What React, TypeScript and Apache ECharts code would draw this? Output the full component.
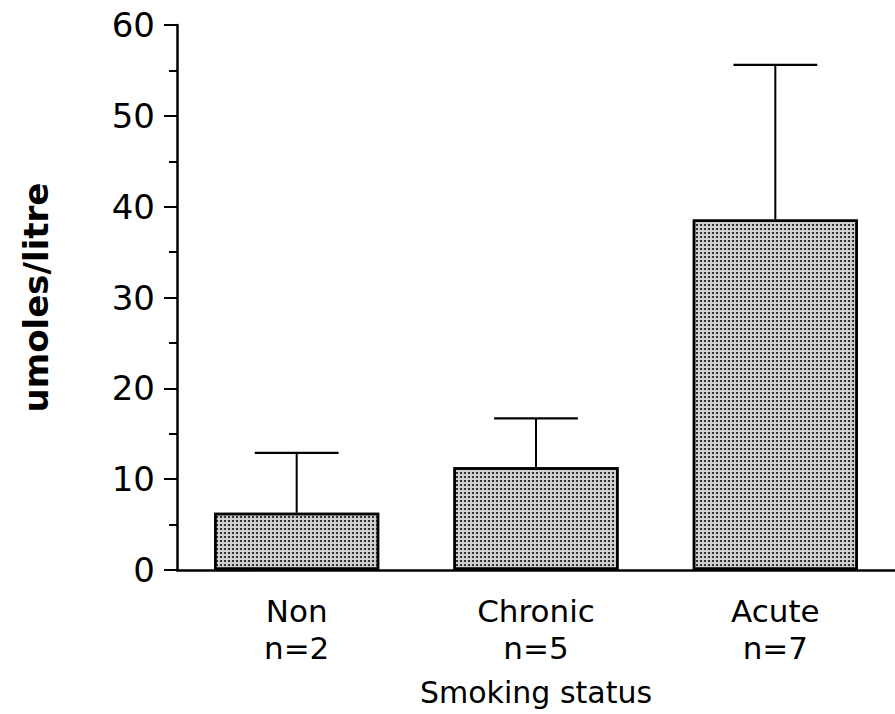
import React, { useEffect, useRef } from "react";
import * as echarts from "echarts";

const categories = ["Non\nn=2", "Chronic\nn=5", "Acute\nn=7"];
const means = [6.3, 11.3, 38.6];
const errors = [6.6, 5.4, 17.0];
const yTicks = [0, 10, 20, 30, 40, 50, 60];

export default function App() {
  const ref = useRef<HTMLDivElement>(null);
  useEffect(() => {
    if (!ref.current) return;
    const chart = echarts.init(ref.current, null, { renderer: "svg" });
    const font = "DejaVu Sans";
    chart.setOption({
      animation: false,
      backgroundColor: "#ffffff",
      grid: { left: 177, right: -4, top: 25, bottom: 144, containLabel: false },
      xAxis: {
        type: "category",
        data: categories,
        name: "Smoking status",
        nameLocation: "middle",
        nameGap: 107,
        nameTextStyle: { fontFamily: font, fontSize: 30, color: "#000" },
        axisLine: { show: true, lineStyle: { color: "#000", width: 2.5 } },
        axisTick: { show: false },
        axisLabel: {
          fontFamily: font,
          fontSize: 31,
          lineHeight: 37,
          color: "#000",
          margin: 22,
        },
      },
      yAxis: {
        type: "value",
        min: yTicks[0],
        max: yTicks[yTicks.length - 1],
        interval: 10,
        name: "umoles/litre",
        nameLocation: "middle",
        nameGap: 124,
        nameTextStyle: { fontFamily: font, fontSize: 34, fontWeight: "bold", color: "#000" },
        axisLine: { show: true, lineStyle: { color: "#000", width: 2.5 } },
        axisTick: { show: true, length: 13, lineStyle: { color: "#000", width: 2 } },
        minorTick: { show: true, splitNumber: 2, length: 8, lineStyle: { color: "#000", width: 2 } },
        splitLine: { show: false },
        axisLabel: { fontFamily: font, fontSize: 34, color: "#000", margin: 22 },
      },
      series: [
        {
          type: "bar",
          data: means,
          barWidth: "69%",
          itemStyle: {
            color: "#d2d2d2",
            borderColor: "#000",
            borderWidth: 2.5,
            decal: {
              symbol: "circle",
              symbolSize: 1,
              dashArrayX: [[1.7, 1.5]],
              dashArrayY: [1.7, 1.5],
              color: "#111111",
              rotation: 0,
            },
          },
          z: 2,
        },
        {
          type: "custom",
          data: means.map((m, i) => [i, m, m + errors[i]]),
          z: 1,
          renderItem: (params: any, api: any) => {
            const i = api.value(0);
            const lo = api.coord([i, api.value(1)]);
            const hi = api.coord([i, api.value(2)]);
            const band = api.size([1, 0])[0];
            const half = band * 0.175;
            return {
              type: "group",
              children: [
                {
                  type: "line",
                  shape: { x1: lo[0], y1: lo[1], x2: hi[0], y2: hi[1] },
                  style: { stroke: "#000", lineWidth: 2 },
                },
                {
                  type: "line",
                  shape: { x1: hi[0] - half, y1: hi[1], x2: hi[0] + half, y2: hi[1] },
                  style: { stroke: "#000", lineWidth: 2.2 },
                },
              ],
            };
          },
        },
      ],
    });
    return () => chart.dispose();
  }, []);
  return (
    <div
      ref={ref}
      style={{ position: "absolute", left: 0, top: 0, width: 895, height: 714 }}
    />
  );
}
